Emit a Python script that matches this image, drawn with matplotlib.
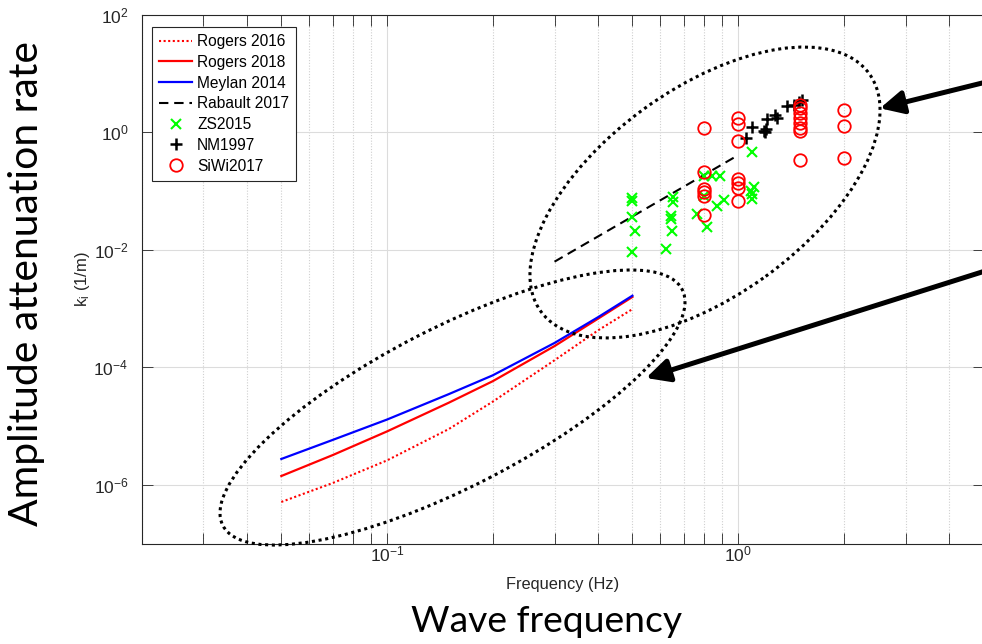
import numpy as np
import matplotlib.pyplot as plt
from matplotlib.patches import Ellipse, FancyArrowPatch
from matplotlib.ticker import FixedLocator, LogLocator, NullLocator, NullFormatter

plt.rcParams['font.family'] = ['Liberation Sans', 'DejaVu Sans']
plt.rcParams['mathtext.fontset'] = 'custom'
plt.rcParams['mathtext.rm'] = 'Liberation Sans'
plt.rcParams['mathtext.it'] = 'Liberation Sans:italic'

# model curves
f_model = [0.05, 0.07, 0.1, 0.15, 0.2, 0.3, 0.4, 0.5]
rogers2016 = [5.1e-7, 1.07e-6, 2.6e-6, 8.9e-6, 2.6e-5, 1.32e-4, 4.3e-4, 9.8e-4]
rogers2018 = [1.41e-6, 3.2e-6, 8.1e-6, 2.5e-5, 5.8e-5, 2.3e-4, 6.8e-4, 1.58e-3]
meylan2014 = [2.75e-6, 5.8e-6, 1.29e-5, 3.5e-5, 7.3e-5, 2.6e-4, 7.2e-4, 1.66e-3]

f_rabault = [0.3, 1.0]
rabault2017 = [6.3e-3, 0.41]

# ZS2015 field data
f_zs = [0.5, 0.5, 0.5, 0.507, 0.5,
        0.654, 0.654, 0.646, 0.646, 0.65, 0.625,
        0.80, 0.844, 0.889, 0.80, 0.765, 0.817, 0.872, 0.913,
        1.096, 1.11, 1.096, 1.096, 1.088]
k_zs = [0.076, 0.068, 0.036, 0.021, 0.0093,
        0.079, 0.065, 0.038, 0.034, 0.021, 0.0104,
        0.18, 0.18, 0.18, 0.082, 0.041, 0.0245, 0.056, 0.070,
        0.46, 0.12, 0.089, 0.073, 0.10]

# NM1997
f_nm = [1.054, 1.096, 1.185, 1.19, 1.20, 1.208, 1.273, 1.29, 1.377, 1.44, 1.489, 1.518]
k_nm = [0.79, 1.215, 1.04, 1.0, 1.124, 1.727, 2.02, 1.796, 2.87, 2.98, 3.35, 3.63]

# SiWi2017
f_siwi = [0.8, 0.8, 0.8, 0.8, 0.8, 0.8,
          1.0, 1.0, 1.0, 1.0, 1.0, 1.0, 1.0,
          1.5, 1.5, 1.5, 1.5, 1.5, 1.5, 1.5, 1.5,
          2.0, 2.0, 2.0]
k_siwi = [1.17, 0.212, 0.111, 0.095, 0.083, 0.039,
          1.77, 1.366, 0.712, 0.16, 0.14, 0.115, 0.069,
          2.98, 2.62, 2.16, 1.77, 1.46, 1.2, 1.05, 0.339,
          2.45, 1.31, 0.372]

W, H = 982, 644
fig = plt.figure(figsize=(W / 100, H / 100), dpi=100)
ax = fig.add_axes([141.6 / W, (H - 543.5) / H, (983.5 - 141.6) / W, (543.5 - 15) / H])

ax.plot(f_model, rogers2016, color='r', ls=(0, (1, 1.2)), lw=1.5, label='Rogers 2016')
ax.plot(f_model, rogers2018, color='r', lw=1.6, label='Rogers 2018')
ax.plot(f_model, meylan2014, color='b', lw=1.6, label='Meylan 2014')
ax.plot(f_rabault, rabault2017, color='k', ls=(0, (4.5, 2.8)), lw=1.5, label='Rabault 2017')
ax.plot(f_zs, k_zs, ls='none', marker='x', color='#00ff00', ms=7, mew=1.5, label='ZS2015')
ax.plot(f_nm, k_nm, ls='none', marker='+', color='k', ms=9, mew=1.8, label='NM1997')
ax.plot(f_siwi, k_siwi, ls='none', marker='o', mfc='none', mec='r', ms=9, mew=1.3, label='SiWi2017')

ax.set_xscale('log')
ax.set_yscale('log')
ax.set_xlim(0.02, 5)
ax.set_ylim(1e-7, 1e2)
ax.xaxis.set_major_locator(FixedLocator([0.1, 1]))
ax.xaxis.set_minor_locator(LogLocator(base=10, subs=np.arange(2, 10)))
ax.xaxis.set_minor_formatter(NullFormatter())
ax.yaxis.set_major_locator(FixedLocator([1e-6, 1e-4, 1e-2, 1, 1e2]))
ax.yaxis.set_minor_locator(NullLocator())

ax.set_axisbelow(True)
ax.grid(True, which='major', color='#dcdcdc', lw=0.8)
ax.grid(True, which='minor', axis='x', color='#cfcfcf', lw=0.8, ls=(0, (1, 1.5)))
ax.tick_params(which='both', direction='in', top=True, right=True, length=8,
               width=0.6, color='#262626', labelsize=12.5, labelcolor='#262626')
ax.tick_params(axis='x', pad=0.5)
ax.tick_params(axis='y', pad=9.5)
for s in ax.spines.values():
    s.set_color('#262626')
    s.set_linewidth(0.8)

ax.set_xlabel('Frequency (Hz)', fontsize=11.8, color='#262626', labelpad=9)
ax.set_ylabel(r'k$_{\mathdefault{i}}$ (1/m)', fontsize=12, color='#262626', labelpad=1)

leg = ax.legend(loc='upper left', bbox_to_anchor=(152 / W, 1 - 27 / H),
                bbox_transform=fig.transFigure, borderaxespad=0, fontsize=11.2,
                fancybox=False, edgecolor='#262626', framealpha=1,
                handlelength=2.15, labelspacing=0.37, borderpad=0.45, handletextpad=0.3)
leg.get_frame().set_linewidth(0.8)

# slide annotations
t1 = fig.text(27 / W, 1 - 283 / H, 'Amplitude attenuation rate', family='Lato',
              fontsize=30, ha='center', va='center')
t2 = fig.text(547 / W, 1 - 622 / H, 'Wave frequency', family='Lato',
              fontsize=30, ha='center', va='center')
r = fig.canvas.get_renderer()
for t, target in [(t1, 485), (t2, 271)]:
    w = t.get_window_extent(r).width
    t.set_fontsize(30 * target / w)
t1.set_rotation(90)

dots = (0, (1, 1.2))
fig.add_artist(Ellipse((7.05, 4.515), 4.054, 2.07, angle=35.9, fill=False, ec='k',
                       lw=2.2, ls=dots, transform=fig.dpi_scale_trans))
fig.add_artist(Ellipse((4.525, 2.365), 5.164, 1.588, angle=27.2, fill=False, ec='k',
                       lw=2.2, ls=dots, transform=fig.dpi_scale_trans))

for tail, tip in [((10.0, 5.654), (8.80, 5.357)), ((10.0, 3.777), (6.46, 2.66))]:
    fig.add_artist(FancyArrowPatch(tail, tip, arrowstyle='-|>,head_length=0.7,head_width=0.35',
                                   mutation_scale=20, lw=3.6, color='k', shrinkA=0, shrinkB=0,
                                   transform=fig.dpi_scale_trans))

fig.savefig('out.png', dpi=100)
